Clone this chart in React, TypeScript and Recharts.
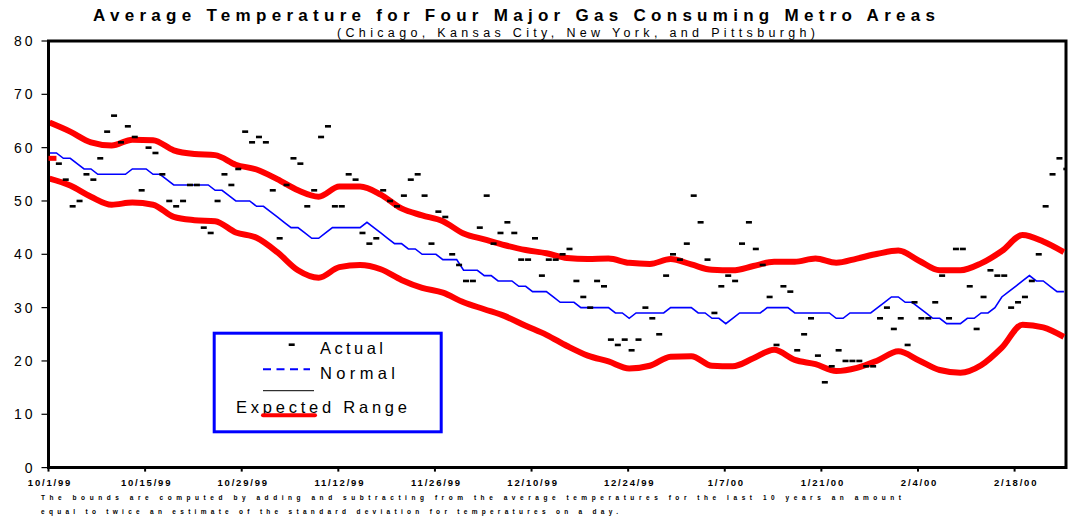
import React from 'react';
import { ComposedChart, Line, Scatter, XAxis, YAxis, ReferenceArea } from 'recharts';

const tickDays = [0, 14, 28, 42, 56, 70, 84, 98, 112, 126, 140];
const tickLabels = ['10/1/99', '10/15/99', '10/29/99', '11/12/99', '11/26/99', '12/10/99', '12/24/99', '1/7/00', '1/21/00', '2/4/00', '2/18/00'];
const yTicks = [0, 10, 20, 30, 40, 50, 60, 70, 80];

const actual = [
  58, 57, 54, 49, 50, 55, 54, 58, 63, 66, 61, 64, 62, 52, 60, 59, 55, 50, 49, 50,
  53, 53, 45, 44, 50, 55, 53, 56, 63, 61, 62, 61, 52, 43, 53, 58, 57, 49, 52, 62,
  64, 49, 49, 55, 54, 44, 42, 43, 52, 50, 49, 51, 54, 55, 51, 42, 48, 47, 40, 38,
  35, 35, 45, 51, 42, 44, 46, 44, 39, 39, 43, 36, 39, 39, 40, 41, 35, 32, 30, 35,
  34, 24, 23, 24, 22, 24, 30, 28, 25, 36, 40, 39, 42, 51, 46, 39, 29, 34, 36, 35,
  42, 46, 41, 38, 32, 23, 34, 33, 22, 25, 28, 21, 16, 19, 22, 20, 20, 20, 19, 19,
  28, 30, 26, 28, 23, 31, 28, 28, 31, 36, 28, 41, 41, 34, 26, 32, 37, 36, 36, 30,
  31, 32, 35, 40, 49, 55, 58, 56,
];

const normal = [
  59, 59, 58, 58, 57, 56, 56, 55, 55, 55, 55, 55, 56, 56, 56, 55, 55, 54, 53, 53,
  53, 53, 53, 53, 52, 52, 51, 50, 50, 50, 49, 49, 48, 47, 46, 45, 45, 44, 43, 43,
  44, 45, 45, 45, 45, 45, 46, 45, 44, 43, 42, 42, 41, 41, 40, 40, 40, 39, 39, 39,
  37, 37, 37, 36, 36, 35, 35, 35, 34, 34, 33, 33, 33, 32, 31, 31, 31, 30, 30, 30,
  30, 30, 29, 29, 28, 29, 29, 29, 29, 29, 30, 30, 30, 30, 29, 29, 28, 28, 27, 28,
  29, 29, 29, 29, 30, 30, 30, 30, 29, 29, 29, 29, 29, 29, 28, 28, 29, 29, 29, 29,
  30, 31, 32, 32, 31, 31, 30, 29, 28, 28, 27, 27, 27, 28, 28, 29, 29, 30, 32, 33,
  34, 35, 36, 35, 35, 34, 33, 33,
];

const boundDays = [
  0, 3, 6, 9, 12, 15, 18, 21, 24, 27, 30, 33, 36, 39, 42, 45, 48, 51, 54, 57,
  60, 63, 66, 69, 72, 75, 78, 81, 84, 87, 90, 93, 96, 99, 102, 105, 108, 111, 114, 117,
  120, 123, 126, 129, 132, 135, 138, 141, 144, 147,
];
const upperBound = [
  64.7, 63.0, 61.0, 60.4, 61.5, 61.4, 59.5, 58.8, 58.6, 56.8, 55.9, 54.1, 52.0, 50.8, 52.7, 52.7, 51.2, 48.6, 47.3, 46.2,
  43.9, 42.8, 41.7, 40.8, 40.2, 39.3, 39.1, 39.2, 38.4, 38.2, 39.1, 38.1, 37.1, 37.0, 37.8, 38.6, 38.6, 39.2, 38.4, 39.2,
  40.1, 40.7, 38.8, 37.0, 37.0, 38.3, 40.6, 43.6, 42.4, 40.4,
];
const lowerBound = [
  54.2, 52.9, 50.8, 49.3, 49.7, 49.3, 47.0, 46.4, 46.2, 44.1, 43.1, 40.4, 37.0, 35.6, 37.6, 38.0, 37.2, 35.2, 33.7, 32.8,
  31.0, 29.7, 28.4, 26.6, 24.9, 22.8, 21.0, 19.9, 18.6, 19.1, 20.8, 20.9, 19.1, 19.0, 20.5, 22.1, 20.2, 19.4, 18.1, 18.7,
  20.1, 21.8, 20.1, 18.3, 17.8, 19.2, 22.5, 26.8, 26.3, 24.5,
];

const X_MAX = 147.45;
const LINE_OFFSET = 0.15;
const ACTUAL_OFFSET = 0.5;

const actualData = actual.map((v, i) => ({ x: i + ACTUAL_OFFSET, actual: v, first: i === 0 }));
const normalData = normal.map((v, i) => ({ x: i + LINE_OFFSET, normal: v }));
const boundData = boundDays.map((d, k) => ({ x: d + LINE_OFFSET, upper: upperBound[k], lower: lowerBound[k] }));

const FONT = '"Liberation Sans", Arial, sans-serif';

const XTick = (props: any) => {
  const { x, y, payload } = props;
  const idx = tickDays.indexOf(payload.value);
  return (
    <text x={x} y={y} dy={12} dx={1.5} textAnchor="middle" fontFamily={FONT} fontSize={9.5} fontWeight="bold" letterSpacing={1.8} fill="#000">
      {tickLabels[idx]}
    </text>
  );
};

const YTick = (props: any) => {
  const { x, y, payload } = props;
  return (
    <text x={x} y={y} dy={5} textAnchor="end" fontFamily={FONT} fontSize={14} letterSpacing={3} fill="#000">
      {payload.value}
    </text>
  );
};

const DashShape = (props: any) => {
  const { cx, cy, payload } = props;
  if (cx == null || cy == null) return null;
  if (payload && payload.first) {
    return <rect x={cx - 4.5} y={cy - 2.5} width={9} height={5} fill="#ff0000" />;
  }
  return <rect x={cx - 3} y={cy - 1.3} width={6} height={2.6} fill="#000" />;
};

export default function App() {
  return (
    <div style={{ position: 'absolute', left: 0, top: 0, width: 1070, height: 516, background: '#fff' }}>
      <ComposedChart width={1070} height={516} margin={{ top: 41, right: 4, left: 0, bottom: 18.4 }}>
        <XAxis
          type="number"
          dataKey="x"
          domain={[0, X_MAX]}
          allowDataOverflow
          ticks={tickDays}
          interval={0}
          height={30}
          tickSize={4}
          tickMargin={2}
          axisLine={{ stroke: '#000', strokeWidth: 3 }}
          tickLine={{ stroke: '#000', strokeWidth: 2 }}
          tick={<XTick />}
        />
        <YAxis
          type="number"
          domain={[0, 80]}
          ticks={yTicks}
          interval={0}
          width={48.5}
          tickSize={7}
          tickMargin={6}
          axisLine={{ stroke: '#000', strokeWidth: 3 }}
          tickLine={{ stroke: '#000', strokeWidth: 1.2 }}
          tick={<YTick />}
        />
        <ReferenceArea x1={0} x2={X_MAX} y1={0} y2={80} fill="none" fillOpacity={0} stroke="#000" strokeWidth={3} />
        <Line data={boundData} dataKey="upper" type="monotone" stroke="#ff0000" strokeWidth={6} dot={false} isAnimationActive={false} />
        <Line data={boundData} dataKey="lower" type="monotone" stroke="#ff0000" strokeWidth={6} dot={false} isAnimationActive={false} />
        <Line data={normalData} dataKey="normal" type="linear" stroke="#0000ff" strokeWidth={1.6} dot={false} isAnimationActive={false} />
        <Scatter data={actualData} dataKey="actual" shape={<DashShape />} isAnimationActive={false} />
      </ComposedChart>
      <svg width={1070} height={516} style={{ position: 'absolute', left: 0, top: 0, pointerEvents: 'none' }}>
        <text x={93} y={21} fontFamily={FONT} fontSize={17} fontWeight="bold" textLength={842} lengthAdjust="spacing" fill="#000">
          Average Temperature for Four Major Gas Consuming Metro Areas
        </text>
        <text x={337} y={36.5} fontFamily={FONT} fontSize={12.5} textLength={478} lengthAdjust="spacing" fill="#000">
          (Chicago, Kansas City, New York, and Pittsburgh)
        </text>
        <text x={41} y={500} fontFamily={FONT} fontSize={6.5} fontWeight="bold" textLength={860} lengthAdjust="spacing" fill="#000">
          The bounds are computed by adding and subtracting from the average temperatures for the last 10 years an amount
        </text>
        <text x={41} y={514} fontFamily={FONT} fontSize={6.5} fontWeight="bold" textLength={577} lengthAdjust="spacing" fill="#000">
          equal to twice an estimate of the standard deviation for temperatures on a day.
        </text>
        <g>
          <rect x={214.2} y={333.2} width={227} height={98.6} fill="#fff" stroke="#0000ff" strokeWidth={3} />
          <rect x={288.7} y={343.4} width={6} height={2.6} fill="#000" />
          <text x={320} y={354.3} fontFamily={FONT} fontSize={16.5} textLength={63} lengthAdjust="spacing" fill="#000">Actual</text>
          <line x1={263} y1={369.3} x2={310} y2={369.3} stroke="#0000ff" strokeWidth={2} strokeDasharray="8 5.5" />
          <text x={320} y={379} fontFamily={FONT} fontSize={16.5} textLength={75} lengthAdjust="spacing" fill="#000">Normal</text>
          <line x1={263} y1={390.7} x2={314} y2={390.7} stroke="#000" strokeWidth={1} />
          <text x={236} y={413.3} fontFamily={FONT} fontSize={16.5} textLength={171} lengthAdjust="spacing" fill="#000">Expected Range</text>
          <line x1={263} y1={415.3} x2={315} y2={415.3} stroke="#ff0000" strokeWidth={4} strokeLinecap="round" />
        </g>
      </svg>
    </div>
  );
}
